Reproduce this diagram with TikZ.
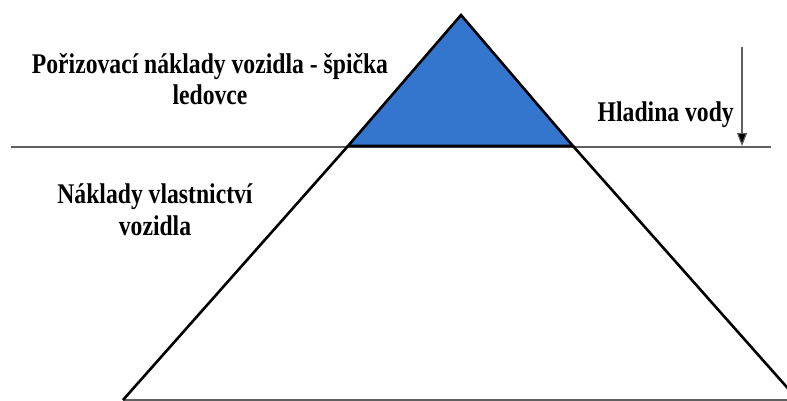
\documentclass[tikz,border=0pt]{standalone}
\usepackage{fontspec}
\setmainfont{Liberation Serif}
\newfontfamily\tallserif[FakeStretch=0.83]{Liberation Serif}
\usetikzlibrary{arrows.meta}
\definecolor{iceblue}{RGB}{52,117,205}
\definecolor{waterline}{RGB}{95,95,95}
\tikzset{
  label text/.style={font=\tallserif\bfseries\fontsize{28.5}{31.5}\selectfont, align=center, inner sep=0pt},
  ice edge/.style={line width=2.6pt, line join=miter},
  thin rule/.style={draw=waterline, line width=1.3pt},
}
\begin{document}
\begin{tikzpicture}[x=1pt,y=-1pt]
  \useasboundingbox (0,0) rectangle (787,401);
  \clip (0,0) rectangle (787,401);
  % iceberg corners
  \coordinate (apex) at (461,15);
  \coordinate (tipL) at (348,146);
  \coordinate (tipR) at (573,146);
  \coordinate (baseL) at (123,400);
  \coordinate (baseR) at (800,402);
  % water surface and sea floor
  \coordinate (waterL) at (11,147);
  \coordinate (waterR) at (771,147);
  \draw[thin rule] (waterL) -- (waterR);
  \draw[thin rule] (baseL) -- (787,400);
  % visible tip of the iceberg
  \filldraw[fill=iceblue, ice edge] (apex) -- (tipL) -- (tipR) -- cycle;
  % submerged part
  \draw[ice edge] (tipL) -- (baseL);
  \draw[ice edge] (tipR) -- (baseR);
  % depth arrow
  \coordinate (arrTop) at (742,47);
  \coordinate (arrBot) at (742,146);
  \draw[draw=waterline, line width=1.1pt, -{Triangle[length=13pt,width=10pt,fill=black]}] (arrTop) -- (arrBot);
  % labels
  \node[label text] (tipText) at (210,79) {Pořizovací náklady vozidla - špička\\ledovce};
  \node[label text, anchor=base east] (levelText) at (734,122) {Hladina vody};
  \node[label text] (ownText) at (155,209.5) {Náklady vlastnictví\\vozidla};
\end{tikzpicture}
\end{document}
